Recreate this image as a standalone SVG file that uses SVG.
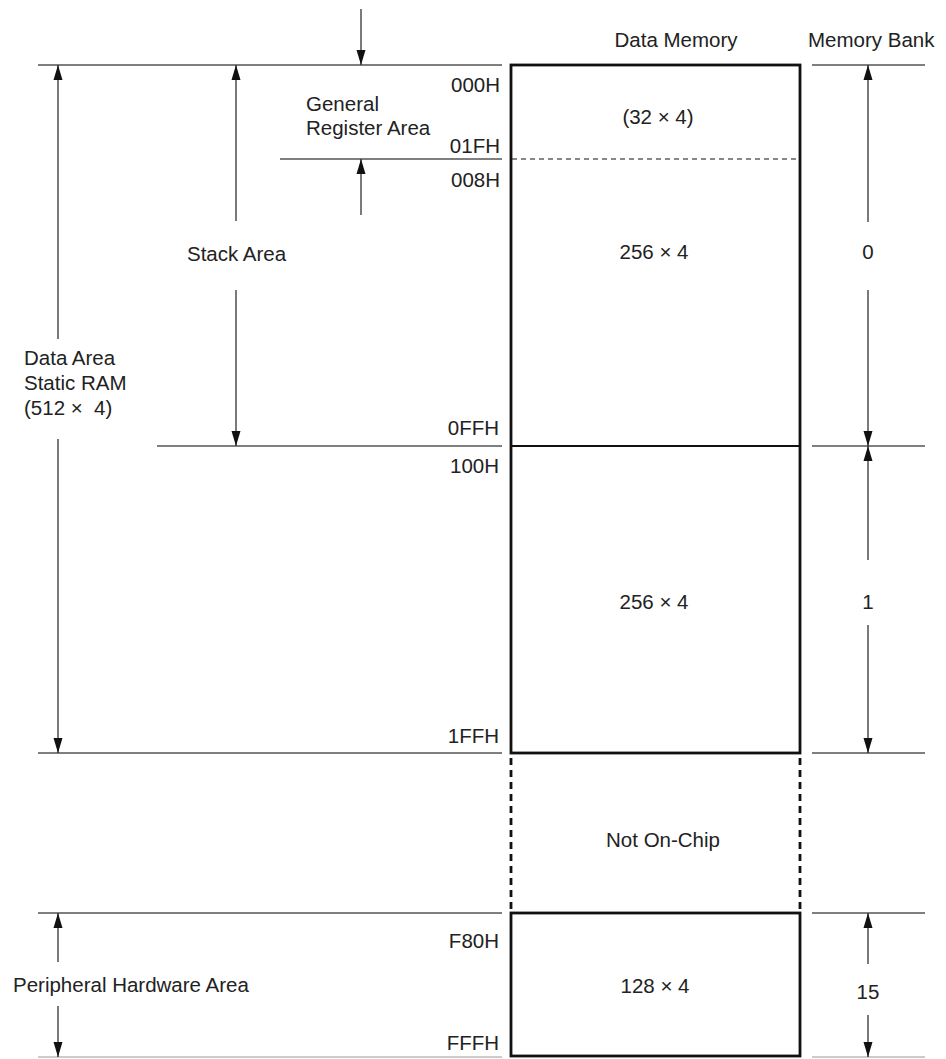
<svg xmlns="http://www.w3.org/2000/svg" width="946" height="1059" viewBox="0 0 946 1059">
<defs>
<marker id="ah" viewBox="0 0 15 10" refX="15" refY="5" markerWidth="15" markerHeight="10" markerUnits="userSpaceOnUse" orient="auto">
<path d="M0,0.5 L15,5 L0,9.5 Z" fill="#111"/>
</marker>
</defs>
<style>
text{font-family:"Liberation Sans",Arial,sans-serif;font-size:20.5px;fill:#222}
.r{text-anchor:end}
.m{text-anchor:middle}
.ln{stroke:#555;stroke-width:1.4;fill:none}
.ar{stroke:#333;stroke-width:1.3;fill:none;marker-end:url(#ah)}
.box{stroke:#111;stroke-width:2.8;fill:none}
.dash{stroke:#111;stroke-width:1.2;stroke-dasharray:5 4;fill:none}
.vdash{stroke:#111;stroke-width:2.8;stroke-dasharray:7 5;fill:none}
</style>
<rect width="946" height="1059" fill="#fff"/>

<g id="guides">
<line class="ln" x1="38" y1="65" x2="502" y2="65"/>
<line class="ln" x1="280" y1="159" x2="502" y2="159"/>
<line class="ln" x1="157" y1="446" x2="502" y2="446"/>
<line class="ln" x1="38" y1="753" x2="502" y2="753"/>
<line class="ln" x1="38" y1="913" x2="502" y2="913"/>
<line class="ln" x1="38" y1="1057" x2="502" y2="1057" stroke-opacity="0.4"/>
<line class="ln" x1="812" y1="65" x2="925" y2="65"/>
<line class="ln" x1="812" y1="446" x2="925" y2="446"/>
<line class="ln" x1="812" y1="753" x2="925" y2="753"/>
<line class="ln" x1="812" y1="913" x2="925" y2="913"/>
<line class="ln" x1="812" y1="1057" x2="925" y2="1057" stroke-opacity="0.4"/>
</g>

<g id="memory-map">
<rect class="box" x="511" y="65" width="289" height="688"/>
<line class="dash" x1="512" y1="159" x2="799" y2="159"/>
<line x1="511" y1="446" x2="800" y2="446" stroke="#111" stroke-width="2.2"/>
<line class="vdash" x1="511" y1="758" x2="511" y2="913"/>
<line class="vdash" x1="800" y1="758" x2="800" y2="913"/>
<rect class="box" x="511" y="913" width="289" height="143" stroke-width="2.5"/>
</g>

<g id="connectors">
<line class="ar" x1="361" y1="9" x2="361" y2="65"/>
<line class="ar" x1="361" y1="215" x2="361" y2="159"/>
<line class="ar" x1="58" y1="339" x2="58" y2="65"/>
<line class="ar" x1="58" y1="439" x2="58" y2="753"/>
<line class="ar" x1="236" y1="221" x2="236" y2="65"/>
<line class="ar" x1="236" y1="290" x2="236" y2="446"/>
<line class="ar" x1="868" y1="222" x2="868" y2="65"/>
<line class="ar" x1="868" y1="290" x2="868" y2="446"/>
<line class="ar" x1="868" y1="560" x2="868" y2="446"/>
<line class="ar" x1="868" y1="625" x2="868" y2="753"/>
<line class="ar" x1="868" y1="964" x2="868" y2="913"/>
<line class="ar" x1="868" y1="1015" x2="868" y2="1057"/>
<line class="ar" x1="58" y1="962" x2="58" y2="913"/>
<line class="ar" x1="58" y1="1006" x2="58" y2="1057"/>
</g>

<g id="headers">
<text class="m" x="676" y="47">Data Memory</text>
<text x="808" y="47">Memory Bank</text>
</g>

<g id="addresses">
<text class="r" x="500" y="92">000H</text>
<text class="r" x="500" y="153">01FH</text>
<text class="r" x="500" y="187">008H</text>
<text class="r" x="499" y="435">0FFH</text>
<text class="r" x="499" y="473">100H</text>
<text class="r" x="499" y="743">1FFH</text>
<text class="r" x="499" y="948">F80H</text>
<text class="r" x="499" y="1050">FFFH</text>
</g>

<g id="area-labels">
<text x="306" y="111">General</text>
<text x="306" y="135">Register Area</text>
<text x="187" y="261">Stack Area</text>
<text x="24" y="365">Data Area</text>
<text x="24" y="390">Static RAM</text>
<text x="24" y="415" xml:space="preserve">(512 ×  4)</text>
<text x="13" y="992">Peripheral Hardware Area</text>
</g>

<g id="sizes">
<text class="m" x="658" y="124">(32 × 4)</text>
<text class="m" x="654" y="259">256 × 4</text>
<text class="m" x="654" y="609">256 × 4</text>
<text class="m" x="663" y="847">Not On-Chip</text>
<text class="m" x="655" y="993">128 × 4</text>
</g>

<g id="banks">
<text class="m" x="868" y="259">0</text>
<text class="m" x="868" y="609">1</text>
<text class="m" x="868" y="999">15</text>
</g>
</svg>
